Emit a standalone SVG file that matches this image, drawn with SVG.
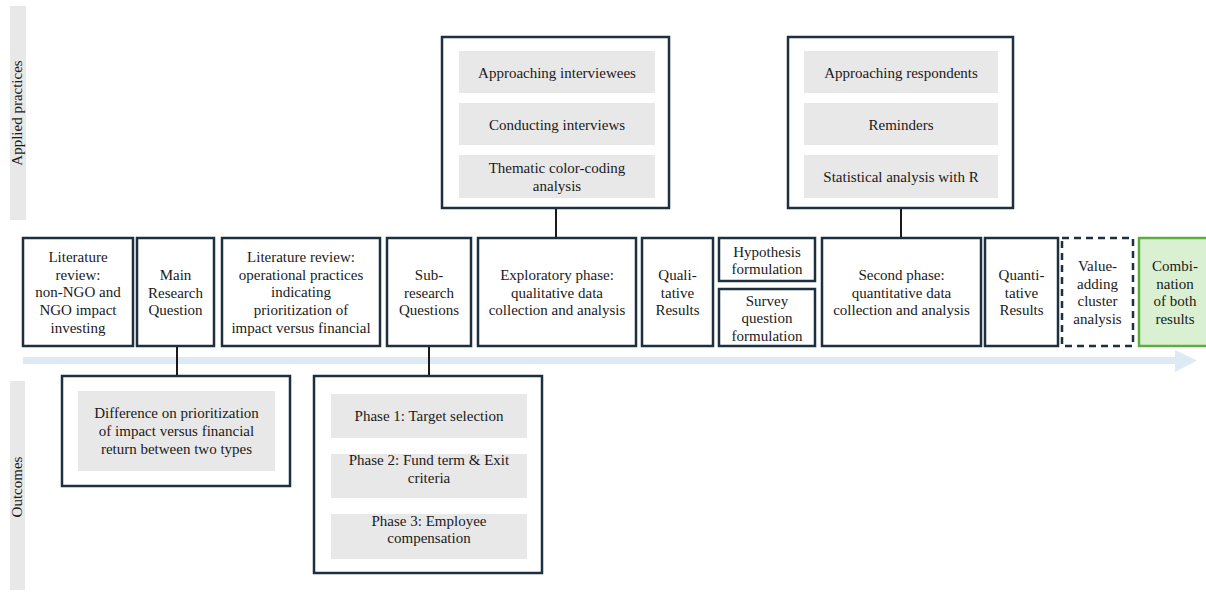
<svg xmlns="http://www.w3.org/2000/svg" width="1206" height="592" viewBox="0 0 1206 592">
<style>
.b{fill:#fff;stroke:#1c3040;stroke-width:2.5}
.d{fill:#fff;stroke:#1c3040;stroke-width:2.5;stroke-dasharray:7 5}
.gr{fill:#e8e8e8}
.t{font-family:"Liberation Serif",Tinos,"Times New Roman","DejaVu Serif",serif;font-size:15px;fill:#1a1a1a;text-anchor:middle}
.c{stroke:#1a1a1a;stroke-width:2;fill:none}
</style>
<rect width="1206" height="592" fill="#fff"/>
<g id="bands">
<rect x="10" y="6" width="16" height="214" class="gr"/>
<text class="t" transform="translate(22,113) rotate(-90)">Applied practices</text>
<rect x="10" y="381" width="15" height="209" class="gr"/>
<text class="t" transform="translate(22,487) rotate(-90)">Outcomes</text>
</g>
<g id="timeline-arrow">
<rect x="23" y="357" width="1154" height="7" fill="#dde9f5"/>
<polygon points="1175,350 1197,360.5 1175,372" fill="#dde9f5"/>
</g>
<g id="connectors">
<line class="c" x1="177" y1="346" x2="177" y2="376"/>
<line class="c" x1="429" y1="346" x2="429" y2="376"/>
<line class="c" x1="556" y1="208" x2="556" y2="238"/>
<line class="c" x1="901" y1="208" x2="901" y2="238"/>
</g>
<g id="lit1">
<rect class="b" x="23" y="238" width="110" height="108"/>
<text class="t"><tspan x="78" y="262">Literature</tspan><tspan x="78" y="280">review:</tspan><tspan x="78" y="297">non-NGO and</tspan><tspan x="78" y="315">NGO impact</tspan><tspan x="78" y="333">investing</tspan></text>
</g>
<g id="mrq">
<rect class="b" x="137" y="238" width="77" height="108"/>
<text class="t"><tspan x="175.5" y="280">Main</tspan><tspan x="175.5" y="298">Research</tspan><tspan x="175.5" y="315">Question</tspan></text>
</g>
<g id="lit2">
<rect class="b" x="222" y="238" width="158" height="108"/>
<text class="t"><tspan x="301" y="262">Literature review:</tspan><tspan x="301" y="280">operational practices</tspan><tspan x="301" y="297">indicating</tspan><tspan x="301" y="315">prioritization of</tspan><tspan x="301" y="333">impact versus financial</tspan></text>
</g>
<g id="subq">
<rect class="b" x="387" y="238" width="84" height="108"/>
<text class="t"><tspan x="429" y="280">Sub-</tspan><tspan x="429" y="298">research</tspan><tspan x="429" y="315">Questions</tspan></text>
</g>
<g id="explor">
<rect class="b" x="478" y="238" width="158" height="108"/>
<text class="t"><tspan x="557" y="280">Exploratory phase:</tspan><tspan x="557" y="298">qualitative data</tspan><tspan x="557" y="315">collection and analysis</tspan></text>
</g>
<g id="qual">
<rect class="b" x="642" y="238" width="71" height="108"/>
<text class="t"><tspan x="677.5" y="280">Quali-</tspan><tspan x="677.5" y="298">tative</tspan><tspan x="677.5" y="315">Results</tspan></text>
</g>
<g id="hyp">
<rect class="b" x="719" y="238" width="96" height="43"/>
<text class="t"><tspan x="767" y="257">Hypothesis</tspan><tspan x="767" y="274">formulation</tspan></text>
</g>
<g id="survey">
<rect class="b" x="719" y="289" width="96" height="57"/>
<text class="t"><tspan x="767" y="306">Survey</tspan><tspan x="767" y="323">question</tspan><tspan x="767" y="341">formulation</tspan></text>
</g>
<g id="second">
<rect class="b" x="822" y="238" width="159" height="108"/>
<text class="t"><tspan x="901.5" y="280">Second phase:</tspan><tspan x="901.5" y="298">quantitative data</tspan><tspan x="901.5" y="315">collection and analysis</tspan></text>
</g>
<g id="quant">
<rect class="b" x="985" y="238" width="73" height="108"/>
<text class="t"><tspan x="1021.5" y="280">Quanti-</tspan><tspan x="1021.5" y="298">tative</tspan><tspan x="1021.5" y="315">Results</tspan></text>
</g>
<g id="cluster">
<rect class="d" x="1062" y="238" width="71" height="108"/>
<text class="t"><tspan x="1097.5" y="271">Value-</tspan><tspan x="1097.5" y="289">adding</tspan><tspan x="1097.5" y="306">cluster</tspan><tspan x="1097.5" y="324">analysis</tspan></text>
</g>
<g id="combo">
<rect x="1139" y="238" width="72" height="108" fill="#daf0d2" stroke="#5cae3f" stroke-width="2.5"/>
<text class="t"><tspan x="1175" y="271">Combi-</tspan><tspan x="1175" y="289">nation</tspan><tspan x="1175" y="306">of both</tspan><tspan x="1175" y="324">results</tspan></text>
</g>
<g id="practices-qual">
<rect class="b" x="442" y="37" width="227" height="171"/>
<rect class="gr" x="459" y="51" width="196" height="42"/>
<rect class="gr" x="459" y="103" width="196" height="42"/>
<rect class="gr" x="459" y="155" width="196" height="43"/>
<text class="t" x="557" y="78">Approaching interviewees</text>
<text class="t" x="557" y="130">Conducting interviews</text>
<text class="t"><tspan x="557" y="173">Thematic color-coding</tspan><tspan x="557" y="191">analysis</tspan></text>
</g>
<g id="practices-quant">
<rect class="b" x="788" y="37" width="225" height="171"/>
<rect class="gr" x="804" y="51" width="194" height="42"/>
<rect class="gr" x="804" y="103" width="194" height="42"/>
<rect class="gr" x="804" y="155" width="194" height="43"/>
<text class="t" x="901" y="78">Approaching respondents</text>
<text class="t" x="901" y="130">Reminders</text>
<text class="t" x="901" y="182">Statistical analysis with R</text>
</g>
<g id="outcome-main">
<rect class="b" x="62" y="376" width="228" height="110"/>
<rect class="gr" x="78" y="391" width="197" height="80"/>
<text class="t"><tspan x="176.5" y="418">Difference on prioritization</tspan><tspan x="176.5" y="436">of impact versus financial</tspan><tspan x="176.5" y="454">return between two types</tspan></text>
</g>
<g id="outcome-sub">
<rect class="b" x="314" y="376" width="228" height="197"/>
<rect class="gr" x="331" y="394" width="196" height="44"/>
<rect class="gr" x="331" y="454" width="196" height="44"/>
<rect class="gr" x="331" y="514" width="196" height="45"/>
<text class="t" x="429" y="421">Phase 1: Target selection</text>
<text class="t"><tspan x="429" y="465">Phase 2: Fund term &amp; Exit</tspan><tspan x="429" y="483">criteria</tspan></text>
<text class="t"><tspan x="429" y="526">Phase 3: Employee</tspan><tspan x="429" y="543">compensation</tspan></text>
</g>
</svg>
